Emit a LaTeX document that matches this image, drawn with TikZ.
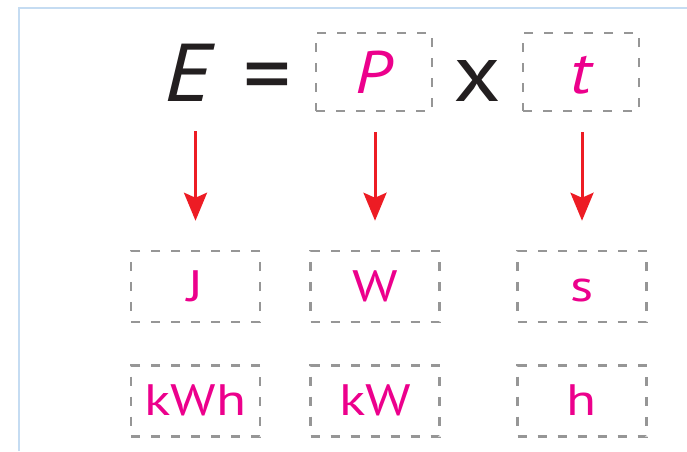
\documentclass[tikz,border=0pt]{standalone}
\usepackage{fontspec}
\setmainfont{PT Sans}
\newfontfamily\symfont{PT Sans}[FakeStretch=1.13]
\newfontfamily\unitfont{PT Sans}[FakeStretch=1.25]
\usepackage{tikz}
\usetikzlibrary{arrows.meta, positioning, calc}
\definecolor{unitpink}{RGB}{236, 0, 140}
\definecolor{arrowred}{RGB}{237, 28, 36}
\definecolor{dotgray}{RGB}{150, 150, 150}
\definecolor{frameblue}{RGB}{197, 220, 242}
\definecolor{inkblack}{RGB}{35, 31, 32}

\begin{document}
\begin{tikzpicture}[
    x=1pt, y=1pt,
    bigsym/.style={inner sep=0pt, anchor=base, text=inkblack, font=\symfont\fontsize{82}{90}\selectfont},
    varbox/.style={draw=dotgray, dash pattern=on 9pt off 11pt, line width=2.5pt, inner sep=0pt, minimum width=116pt, minimum height=78pt, text height=42pt, text depth=0pt, text=unitpink, font=\symfont\fontsize{60}{66}\selectfont\itshape},
    unitbox/.style={draw=dotgray, dash pattern=on 9pt off 11pt, line width=2.5pt, inner sep=0pt, minimum width=129pt, minimum height=71pt, text height=29pt, text depth=0pt, text=unitpink, font=\unitfont\fontsize{44}{50}\selectfont},
    arrow/.style={-{Stealth[length=28pt, width=23pt, inset=5pt]}, line width=3pt, arrowred}
]
\useasboundingbox (0,0) rectangle (687,-451);

% Frame (top and left edge only)
\draw[frameblue, line width=2pt] (19,-451) -- (19,-8) -- (687,-8);

% Formula row
\node[bigsym] (E) at (190,-101) {\textit{E}};
\node[bigsym, font=\fontsize{95}{100}\selectfont] (eq) at (267.5,-106) {=};
\node[varbox] (P) at (374,-72) {P};
\node[bigsym] (times) at (477.5,-101) {x};
\node[varbox] (t) at (581,-72) {t};

% Units
\node[unitbox] (J) at (195.5,-286.5) {J};
\node[unitbox] (W) at (375,-286.5) {W};
\node[unitbox] (s) at (582,-286.5) {s};
\node[unitbox, below=41pt of J] (kWh) {kWh};
\node[unitbox, below=41pt of W] (kW) {kW};
\node[unitbox, below=41pt of s] (h) {h};

% Arrows down to the units
\draw[arrow, shorten <=30pt, shorten >=29pt] (J |- E.south) -- (J.north);
\draw[arrow, shorten <=20pt, shorten >=29pt] (W |- P.south) -- (W.north);
\draw[arrow, shorten <=20pt, shorten >=29pt] (s |- t.south) -- (s.north);

\end{tikzpicture}
\end{document}
